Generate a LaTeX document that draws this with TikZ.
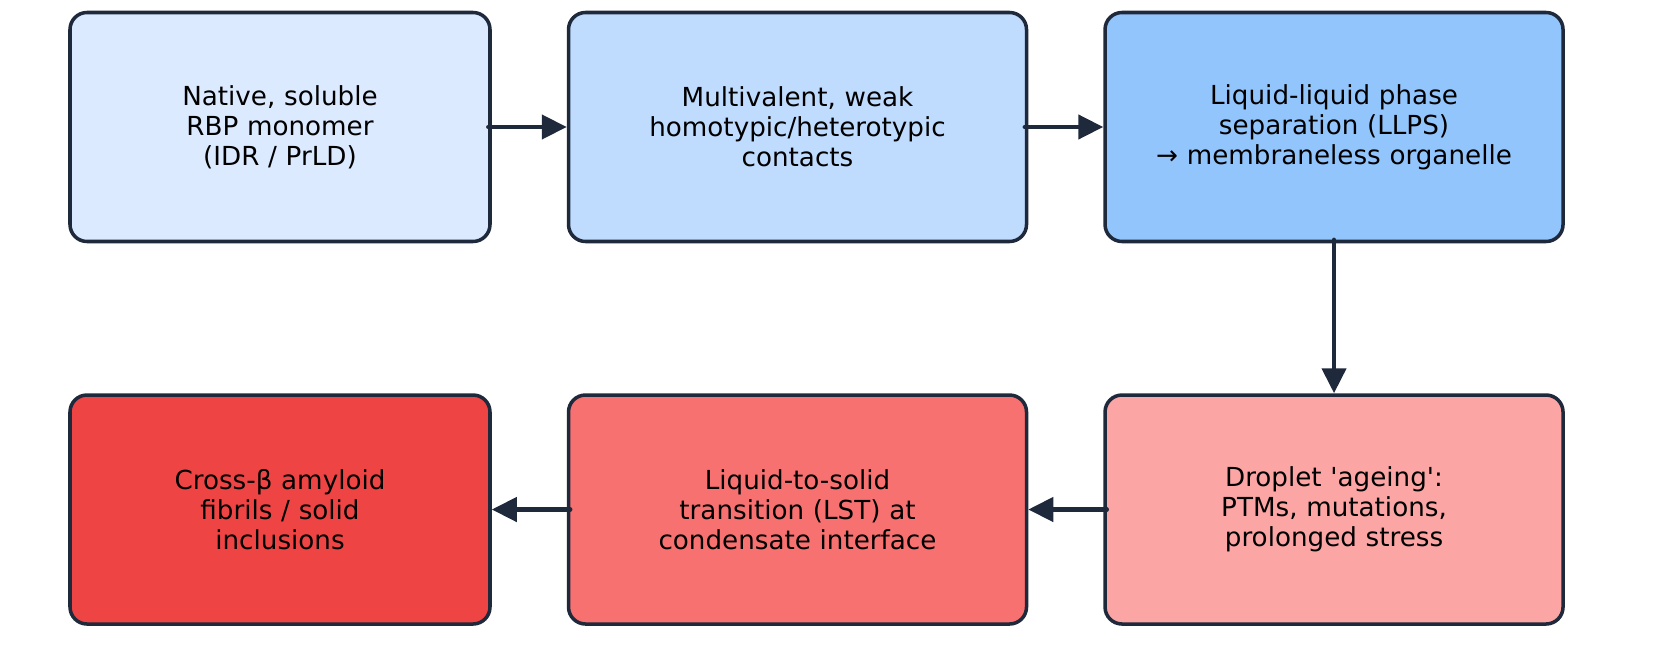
\documentclass[tikz,border=0pt]{standalone}
\usepackage{fontspec}
\setmainfont{DejaVu Sans}
\usetikzlibrary{positioning,arrows.meta}

\definecolor{edgeclr}{HTML}{1E293B}
\definecolor{blueA}{HTML}{DBEAFE}
\definecolor{blueB}{HTML}{BFDBFE}
\definecolor{blueC}{HTML}{93C5FD}
\definecolor{redA}{HTML}{FCA5A5}
\definecolor{redB}{HTML}{F87171}
\definecolor{redC}{HTML}{EF4444}

\tikzset{
    stage/.style={rectangle, rounded corners=0.34cm, draw=edgeclr, line width=2pt,
        minimum height=4.58cm, text width=8cm, align=center,
        font=\fontsize{14.9}{17}\selectfont},
    flow/.style={draw=edgeclr, line width=2.5pt, line cap=round, shorten <=-0.07cm,
        -{Triangle[length=0.5cm,width=0.48cm]}}
}

\begin{document}
\begin{tikzpicture}[node distance=3.0cm and 1.5cm]
    \useasboundingbox (0,0) rectangle (33.22,-13.02);
    \node[stage, fill=blueA, minimum width=8.4cm] (native) at (5.6,-2.54)
        {Native, soluble\\RBP monomer\\(IDR / PrLD)};
    \node[stage, fill=blueB, minimum width=9.16cm, right=of native] (contacts)
        {Multivalent, weak\\homotypic/heterotypic\\contacts};
    \node[stage, fill=blueC, minimum width=9.16cm, right=of contacts] (llps)
        {Liquid-liquid phase\\separation (LLPS)\\→ membraneless organelle};
    \node[stage, fill=redA, minimum width=9.16cm, below=of llps] (ageing)
        {Droplet \textquotesingle ageing\textquotesingle:\\PTMs, mutations,\\prolonged stress};
    \node[stage, fill=redB, minimum width=9.16cm, below=of contacts] (lst)
        {Liquid-to-solid\\transition (LST) at\\condensate interface};
    \node[stage, fill=redC, minimum width=8.4cm, below=of native] (fibrils)
        {Cross-β amyloid\\fibrils / solid\\inclusions};

    \draw[flow] (native) -- (contacts);
    \draw[flow] (contacts) -- (llps);
    \draw[flow] (llps) -- (ageing);
    \draw[flow] (ageing) -- (lst);
    \draw[flow] (lst) -- (fibrils);
\end{tikzpicture}
\end{document}
